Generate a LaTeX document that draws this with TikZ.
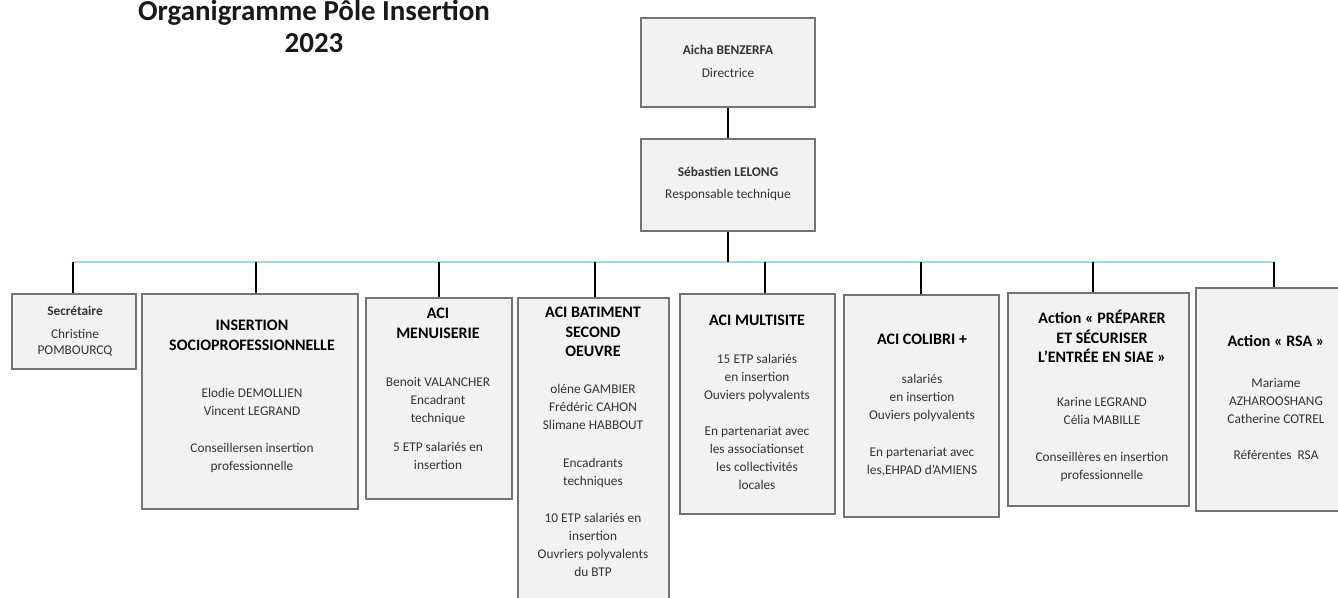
\documentclass[tikz,border=0pt]{standalone}
\usepackage{fontspec}
\setmainfont{Carlito}
\definecolor{boxfill}{HTML}{F2F2F2}
\definecolor{boxline}{HTML}{747474}
\definecolor{buscol}{HTML}{9FDAE2}
\definecolor{bodytxt}{HTML}{333333}
\tikzset{
  orgbox/.style={draw=boxline, fill=boxfill, line width=1.8pt, inner sep=0pt, anchor=north west},
  head/.style={font=\fontsize{12}{14.5}\selectfont\bfseries, align=center, anchor=north, inner sep=0pt, text=black},
  body/.style={font=\fontsize{10}{13.5}\selectfont, align=center, anchor=north, inner sep=0pt, text=bodytxt},
  conn/.style={line width=1.5pt, draw=black},
  busline/.style={line width=1.6pt, draw=buscol},
  titlestyle/.style={font=\fontsize{21.7}{24}\selectfont\bfseries, align=center, anchor=north, inner sep=0pt, text=black!90},
}
\newcommand\mkbox[5]{\node[orgbox, minimum width={#4*0.75pt}, minimum height={#5*0.75pt}] (#1) at (#2,#3) {};}
\begin{document}
\begin{tikzpicture}[x=0.75pt,y=-0.75pt]
\useasboundingbox[fill=white] (0,0) rectangle (1338,597);

% title
\node[titlestyle] (title) at (314,0) {Organigramme Pôle Insertion\\2023};

% boxes
\mkbox{top1}{640}{17}{174}{89}
\mkbox{top2}{640}{138}{174}{92}
\mkbox{sec}{11}{293}{124}{75}
\mkbox{ins}{141}{293}{216}{215}
\mkbox{men}{365}{297}{146}{201}
\mkbox{bat}{517}{297}{151}{320}
\mkbox{mul}{679}{293}{155}{220}
\mkbox{col}{843}{294}{155}{222}
\mkbox{pre}{1007}{292}{181}{213}
\mkbox{rsa}{1195}{287}{160}{223}

% connectors
\coordinate (d1) at (73,262);
\coordinate (d2) at (256,262);
\coordinate (d3) at (439,262);
\coordinate (d4) at (595,262);
\coordinate (d5) at (765,262);
\coordinate (d6) at (921,262);
\coordinate (d7) at (1093,262);
\coordinate (d8) at (1274,262);
\draw[busline] (d1) -- (d8);
\draw[conn] (top1.south) -- (top2.north);
\draw[conn] (top2.south) -- (top2.south |- d1);
\draw[conn] (d1) -- (d1 |- sec.north);
\draw[conn] (d2) -- (d2 |- ins.north);
\draw[conn] (d3) -- (d3 |- men.north);
\draw[conn] (d4) -- (d4 |- bat.north);
\draw[conn] (d5) -- (d5 |- mul.north);
\draw[conn] (d6) -- (d6 |- col.north);
\draw[conn] (d7) -- (d7 |- pre.north);
\draw[conn] (d8) -- (d8 |- rsa.north);

% texts
\node[body] (t1) at (728,45) {\textbf{Aicha BENZERFA}\\[3.5pt]Directrice};
\node[body] (t2) at (728,167) {\textbf{Sébastien LELONG}\\[3pt]Responsable technique};
\node[body, font=\fontsize{10}{12}\selectfont] (secT) at (75,306) {\textbf{Secrétaire}\\[5pt]Christine\\POMBOURCQ};

\node[head] (insH) at (252,320) {INSERTION\\SOCIOPROFESSIONNELLE};
\node[body] (insB) at (252,388) {Elodie DEMOLLIEN\\Vincent LEGRAND\\[14pt]Conseillersen insertion\\professionnelle};

\node[head] (menH) at (438,308) {ACI\\MENUISERIE};
\node[body] (menB) at (438,377) {Benoit VALANCHER\\Encadrant\\technique\\[8pt]5 ETP salariés en\\insertion};

\node[head] (batH) at (593,307) {ACI BATIMENT\\SECOND\\OEUVRE};
\node[body] (batB) at (593,384) {oléne GAMBIER\\Frédéric CAHON\\Slimane HABBOUT\\[15pt]Encadrants\\techniques\\[14pt]10 ETP salariés en\\insertion\\Ouvriers polyvalents\\du BTP};

\node[head] (mulH) at (757,315) {ACI MULTISITE};
\node[body] (mulB) at (757,354) {15 ETP salariés\\en insertion\\Ouviers polyvalents\\[13.5pt]En partenariat avec\\les associationset\\les collectivités\\locales};

\node[head] (colH) at (922,334) {ACI COLIBRI +};
\node[body] (colB) at (922,374) {salariés\\en insertion\\Ouviers polyvalents\\[14pt]En partenariat avec\\les,EHPAD d’AMIENS};

\node[head] (preH) at (1102,310) {Action «~PRÉPARER\\ET SÉCURISER\\L’ENTRÉE EN SIAE~»};
\node[body] (preB) at (1102,397) {Karine LEGRAND\\Célia MABILLE\\[14pt]Conseillères en insertion\\professionnelle};

\node[head] (rsaH) at (1276,335) {Action «~RSA~»};
\node[body] (rsaB) at (1276,378) {Mariame\\AZHAROOSHANG\\Catherine COTREL\\[13.5pt]Référentes~~RSA};
\end{tikzpicture}
\end{document}
